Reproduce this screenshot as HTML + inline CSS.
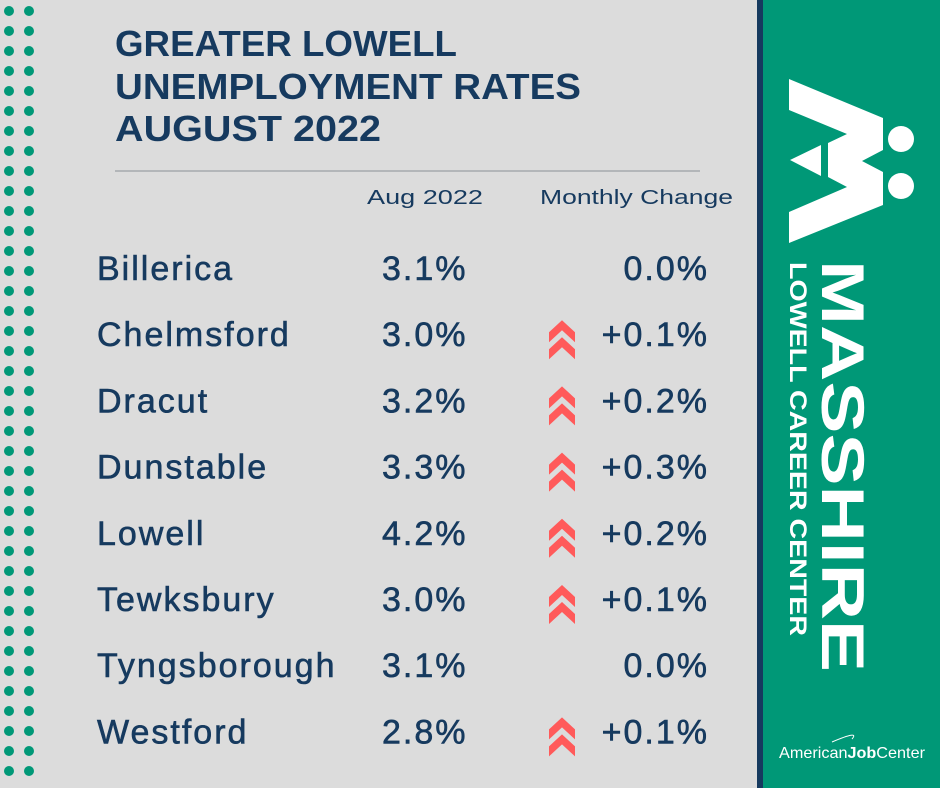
<!DOCTYPE html>
<html><head><meta charset="utf-8"><style>
body{margin:0;width:940px;height:788px;overflow:hidden;background:#dcdcdc;font-family:"Liberation Sans",sans-serif}
svg{display:block}
</style></head><body>
<svg width="940" height="788" viewBox="0 0 940 788">
<rect x="0" y="0" width="940" height="788" fill="#dcdcdc"/>
<g id="dots"></g>
<g fill="#163a5f" font-weight="bold" font-size="36">
<text x="115" y="56" textLength="342" lengthAdjust="spacingAndGlyphs">GREATER LOWELL</text>
<text x="115" y="99" textLength="466" lengthAdjust="spacingAndGlyphs">UNEMPLOYMENT RATES</text>
<text x="115" y="141" textLength="266" lengthAdjust="spacingAndGlyphs">AUGUST 2022</text>
</g>
<line x1="115" y1="171" x2="700" y2="171" stroke="#8a8f96" stroke-width="1"/>
<text x="367" y="204" font-size="20" fill="#163a5f" textLength="116" lengthAdjust="spacingAndGlyphs">Aug 2022</text>
<text x="540" y="204" font-size="20" fill="#163a5f" textLength="193" lengthAdjust="spacingAndGlyphs">Monthly Change</text>
<g id="rows"></g>
<rect x="757" y="0" width="6" height="788" fill="#163a5f"/>
<rect x="763" y="0" width="177" height="788" fill="#009877"/>
<g fill="#fff">
<polygon points="789,79 883,118 883,150 862,161 883,172 883,205 789,243 789,212 847,187 828,177 828,143 847,134 789,110" />
<polygon points="790,160 821,145 821,176"/>
<circle cx="901" cy="139" r="13"/><circle cx="901" cy="186" r="13"/>
</g>
<text transform="translate(822,260) rotate(90)" font-size="60" font-weight="bold" fill="#fff" textLength="412" lengthAdjust="spacingAndGlyphs">MASSHIRE</text>
<text transform="translate(790,262) rotate(90)" font-size="24" font-weight="bold" fill="#fff" textLength="374" lengthAdjust="spacingAndGlyphs">LOWELL CAREER CENTER</text>
<path d="M832,742 Q860,730 852,739" stroke="#fff" fill="none" stroke-width="1"/>
<text x="779" y="758" font-size="16" fill="#fff" textLength="146" lengthAdjust="spacingAndGlyphs">American<tspan font-weight="bold">Job</tspan>Center</text>
</svg>
<script>
const towns=["Billerica","Chelmsford","Dracut","Dunstable","Lowell","Tewksbury","Tyngsborough","Westford"];
const rates=[3.1,3.0,3.2,3.3,4.2,3.0,3.1,2.8];
const changes=[0.0,0.1,0.2,0.3,0.2,0.1,0.0,0.1];
const NS="http://www.w3.org/2000/svg";
const dots=document.getElementById('dots');
for(let i=0;i<39;i++){for(const cx of [9,29]){const c=document.createElementNS(NS,'circle');
c.setAttribute('cx',cx);c.setAttribute('cy',11+i*20);c.setAttribute('r',5);c.setAttribute('fill','#009877');


dots.appendChild(c);}}
const rows=document.getElementById('rows');
function rowY(i){return 268+i*66.2;}
function t(x,y,s,anchor,name){const e=document.createElementNS(NS,'text');e.setAttribute('x',x);e.setAttribute('y',y);
e.setAttribute('font-size',34);e.setAttribute('fill','#163a5f');e.setAttribute('stroke','#163a5f');e.setAttribute('stroke-width','0.6');
e.setAttribute('text-anchor',anchor);e.setAttribute('letter-spacing','2');e.textContent=s;


rows.appendChild(e);}
towns.forEach((tn,i)=>{const y=rowY(i)+12;
t(97,y,tn,'start','town-name');
t(382,y,rates[i].toFixed(1)+'%','start','rate-value');
t(709,y,(changes[i]>0?'+':'')+changes[i].toFixed(1)+'%','end','change-value');
if(changes[i]>0){const g=document.createElementNS(NS,'path');const cx=562,cy=rowY(i)+3;
let d='';for(const o of [-17,0]){const yy=cy+o;d+=`M${cx-13},${yy+12} L${cx},${yy} L${cx+13},${yy+12} L${cx+13},${yy+22} L${cx},${yy+10} L${cx-13},${yy+22}Z `;}
g.setAttribute('d',d);g.setAttribute('fill','#ff5a5a');


rows.appendChild(g);}
});
</script>
</body></html>
